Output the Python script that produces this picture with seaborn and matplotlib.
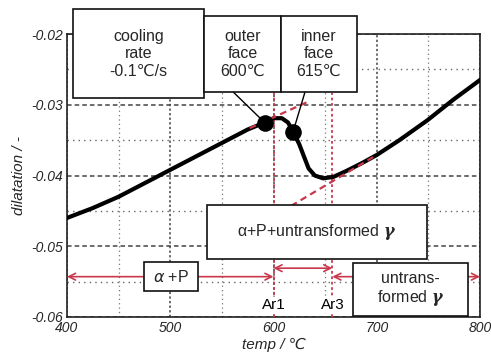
import numpy as np
import pandas as pd
import matplotlib
matplotlib.use("Agg")
import matplotlib.pyplot as plt
from matplotlib.patches import Rectangle
import seaborn as sns

# ---- data ----
temp = [400, 425, 450, 475, 500, 525, 550, 575, 590, 600, 608, 614, 619, 625,
        630, 634, 640, 648, 658, 670, 685, 700, 722, 749, 774, 800]
dilatation = [-0.0460, -0.0446, -0.0430, -0.0411, -0.0392, -0.0373, -0.0354,
              -0.0335, -0.0326, -0.0319, -0.0319, -0.0325, -0.0338, -0.0356,
              -0.0375, -0.0390, -0.0400, -0.0404, -0.0402, -0.0394, -0.0383,
              -0.0371, -0.0350, -0.0322, -0.0293, -0.0265]
dot_temp = [592, 619]
dot_dil = [-0.0326, -0.0338]
tan1_temp = [577, 633]
tan1_dil = [-0.0333, -0.0296]
tan2_temp = [617, 700]
tan2_dil = [-0.0443, -0.0371]
ar1, ar3 = 600, 657
xticks = [400, 500, 600, 700, 800]
yticks = [-0.06, -0.05, -0.04, -0.03, -0.02]

sns.set_style("white")
plt.rcParams['font.family'] = ['Liberation Sans', 'DejaVu Sans']
plt.rcParams['mathtext.fontset'] = 'custom'
plt.rcParams['mathtext.bf'] = 'DejaVu Serif:italic:bold'
plt.rcParams['mathtext.rm'] = 'Liberation Sans'

W, H = 491, 354
fig = plt.figure(figsize=(W / 100, H / 100), dpi=100)
ax = fig.add_axes([67 / W, 1 - 317 / H, (480 - 67) / W, (317 - 34) / H])

RED = "#c8384a"

ax.set_xlim(400, 800)
ax.set_ylim(-0.06, -0.02)
ax.set_xticks(xticks)
ax.set_yticks(yticks)
ax.set_xticks([450, 550, 650, 750], minor=True)
ax.set_yticks([-0.055, -0.045, -0.035, -0.025], minor=True)
ax.set_xticklabels([str(t) for t in xticks], fontstyle='italic', fontsize=10)
ax.set_yticklabels([f"{t:.2f}" for t in yticks], fontstyle='italic', fontsize=10)
ax.tick_params(which='both', length=0, pad=3)
ax.grid(which='major', axis='y', color='#444444', linestyle=(0, (3, 2)), linewidth=1.1)
ax.grid(which='minor', axis='y', color='#666666', linestyle=(0, (1, 3)), linewidth=1.0)
ax.grid(which='major', axis='x', color='#444444', linestyle=(0, (1.5, 1.5)), linewidth=1.1)
ax.grid(which='minor', axis='x', color='#777777', linestyle=(0, (1, 2.5)), linewidth=0.9)
for s in ax.spines.values():
    s.set_color('#222222')
    s.set_linewidth(1.2)

# red vertical lines
for xv in (ar1, ar3):
    ax.plot([xv, xv], [-0.06, -0.0283], color=RED, linestyle=(0, (1.5, 1.5)),
            linewidth=1.3, zorder=3)

# curve
df = pd.DataFrame({"temp": temp, "dilatation": dilatation})
sns.lineplot(data=df, x="temp", y="dilatation", ax=ax, color="black",
             linewidth=3.0, sort=False, zorder=4)
# tangents
ax.plot(tan1_temp, tan1_dil, color=RED, linestyle=(0, (3, 2)), linewidth=1.6, zorder=5)
ax.plot(tan2_temp, tan2_dil, color=RED, linestyle=(0, (3, 2)), linewidth=1.6, zorder=5)
# leader lines
ax.plot([561, dot_temp[0]], [-0.0282, dot_dil[0]], color='black', linewidth=1.0, zorder=5)
ax.plot([630.5, dot_temp[1]], [-0.0282, dot_dil[1]], color='black', linewidth=1.0, zorder=5)
ax.scatter(dot_temp, dot_dil, s=120, color='black', zorder=6)

# arrows
arr = dict(arrowstyle='<->', color=RED, linewidth=1.2, shrinkA=0, shrinkB=0,
           mutation_scale=12)
ax.annotate('', xy=(400, -0.0543), xytext=(ar1, -0.0543), arrowprops=arr)
ax.annotate('', xy=(ar1, -0.0531), xytext=(ar3, -0.0531), arrowprops=arr)
ax.annotate('', xy=(ar3, -0.0543), xytext=(800, -0.0543), arrowprops=arr)

for xv, lab in ((ar1, "Ar1"), (ar3, "Ar3")):
    ax.text(xv, -0.0583, lab, ha='center', va='center', fontsize=11, color='black',
            zorder=7, bbox=dict(facecolor='white', edgecolor='none', pad=1.0))

ax.set_xlabel("temp / ℃", fontstyle='italic', fontsize=11, labelpad=2)
ax.set_ylabel("dilatation / -", fontstyle='italic', fontsize=11, labelpad=4)


def box(x0, y0, x1, y1, text, fs=11.5):
    r = Rectangle((x0 / W, 1 - y1 / H), (x1 - x0) / W, (y1 - y0) / H,
                  transform=fig.transFigure, facecolor='white',
                  edgecolor='#111111', linewidth=1.2, zorder=10)
    fig.patches.append(r)
    fig.text((x0 + x1) / 2 / W, 1 - (y0 + y1) / 2 / H, text, ha='center',
             va='center', fontsize=fs, zorder=11, linespacing=1.2)


box(73, 9, 204, 98, "cooling\nrate\n-0.1℃/s")
box(204, 16, 281, 92, "outer\nface\n600℃")
box(281, 16, 357, 92, "inner\nface\n615℃")
box(207, 205, 427, 259, r"α+P+untransformed $\mathbf{\gamma}$")
box(144, 262, 198, 291, r"$\alpha$ +P")
box(353, 263, 468, 316, "untrans-\n" + r"formed $\mathbf{\gamma}$")

fig.savefig("out.png", dpi=100)
